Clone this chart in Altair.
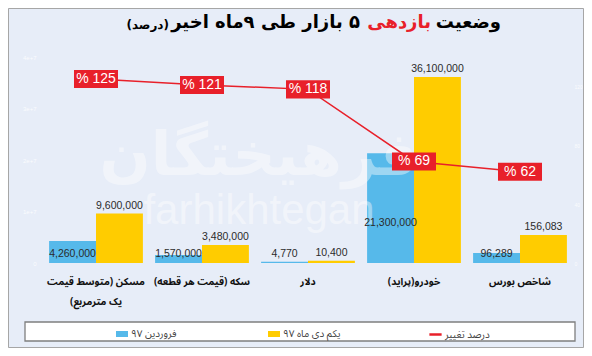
import altair as alt
import pandas as pd

# ---------------- data ----------------
categories = [
    "مسکن (متوسط قیمت\nیک مترمربع)\u200f",
    "سکه (قیمت هر قطعه)\u200f",
    "دلار",
    "خودرو(پراید)\u200f",
    "شاخص بورس",
]
series_names = ["فروردین ۹۷", "یکم دی ماه ۹۷"]
line_name = "درصد تغییر"

farvardin_97 = [4260000, 1570000, 4770, 21300000, 96289]
dey_97 = [9600000, 3480000, 10400, 36100000, 156083]
# bar heights as drawn in the original chart (left axis units)
farvardin_drawn = [4260000, 1570000, 250000, 21300000, 1950000]
dey_drawn = [9600000, 3480000, 450000, 36100000, 5450000]
pct_change = [125, 121, 118, 69, 62]

title_parts = ["وضعیت", "بازدهی", "\u200f۵ بازار طی ۹ماه اخیر", "(درصد)"]
watermark = ["فرهیختگان", "farhikhtegan"]

# ---------------- style ----------------
BLUE = "#56B9EA"
YELLOW = "#FFCC00"
RED = "#E8202A"
BG = "#E7EDF8"
FA = "'Noto Sans Arabic', 'DejaVu Sans Condensed', 'DejaVu Sans'"
FT = "DejaVu Sans"
LAT = "Liberation Sans"

rows = []
for i, c in enumerate(categories):
    rows.append(dict(category=c, series=series_names[0], drawn=farvardin_drawn[i],
                     label=f"{farvardin_97[i]:,}", peak=farvardin_97[i] == max(farvardin_97)))
    rows.append(dict(category=c, series=series_names[1], drawn=dey_drawn[i],
                     label=f"{dey_97[i]:,}", peak=dey_97[i] == max(dey_97)))
bars_df = pd.DataFrame(rows)
pct_df = pd.DataFrame({"category": categories, "pct": pct_change,
                       "txt": [f"% {p}" for p in pct_change], "name": line_name})
one = pd.DataFrame({"a": [0]})

x_enc = alt.X(
    "category:N", sort=categories,
    scale=alt.Scale(domain=categories, paddingInner=0.115, paddingOuter=0.0575),
    axis=alt.Axis(title=None, labelExpr="split(datum.label, '\\n')", labelFont=FA,
                  labelFontWeight="bold", labelFontSize=10, labelColor="#111111",
                  labelPadding=13, labelLineHeight=20, labelAngle=0, labelLimit=220,
                  domain=False, ticks=False, labelBaseline="top"),
)
xoff = alt.XOffset("series:N", sort=series_names,
                   scale=alt.Scale(domain=series_names, paddingInner=0, paddingOuter=0))

y_left = alt.Y(
    "drawn:Q",
    scale=alt.Scale(domain=[0, 40000000], nice=False),
    axis=alt.Axis(title=None, values=list(range(0, 40000001, 5000000)), format=",",
                  labelColor="#FFFFFF", labelOpacity=0.8, labelFontSize=6,
                  domain=False, ticks=False, grid=False, labelPadding=7),
)

# decorative frames
outer = alt.Chart(one).mark_rect(fillOpacity=0, stroke="#A6A6A6", strokeWidth=1).encode(
    x=alt.value(-34.5), x2=alt.value(540.5), y=alt.value(-48.5), y2=alt.value(290.5))
legend_box = alt.Chart(one).mark_rect(fill="#FFFFFF", stroke="#7F7F7F", strokeWidth=1.3).encode(
    x=alt.value(-18), x2=alt.value(532), y=alt.value(265), y2=alt.value(284))

bars = alt.Chart(bars_df).mark_bar(size=46.9).encode(
    x=x_enc, xOffset=xoff, y=y_left,
    color=alt.Color("series:N",
                    scale=alt.Scale(domain=series_names, range=[BLUE, YELLOW]),
                    legend=alt.Legend(orient="none", legendX=72, legendY=270,
                                      direction="horizontal", title=None,
                                      symbolType="M-1,-0.5H1V0.5H-1Z", symbolSize=144,
                                      labelFont=FA, labelFontSize=10, labelColor="#404040",
                                      columnPadding=90, labelOffset=2)),
)

wm1 = alt.Chart(one).mark_text(text=watermark[0], font=FT, fontWeight="bold", fontSize=60,
                               color="#FFFFFF", opacity=0.42).encode(
    x=alt.value(216), y=alt.value(100))
wm2 = alt.Chart(one).mark_text(text=watermark[1], font=LAT, fontSize=42,
                               color="#FFFFFF", opacity=0.42).encode(
    x=alt.value(216), y=alt.value(154))

blue_df = bars_df[(bars_df.series == series_names[0]) & (~bars_df.peak)]
peak_df = bars_df[(bars_df.series == series_names[0]) & (bars_df.peak)]
yellow_df = bars_df[bars_df.series == series_names[1]]

lab_blue = alt.Chart(blue_df).mark_text(dy=-9, font=LAT, fontSize=10.5, color="#2B2B2B").encode(
    x=x_enc, xOffset=xoff, y=alt.datum(0), text="label:N")
lab_peak = alt.Chart(peak_df).mark_text(dy=-40, font=LAT, fontSize=10.5, color="#2B2B2B").encode(
    x=x_enc, xOffset=xoff, y=alt.datum(0), text="label:N")
lab_yellow = alt.Chart(yellow_df).mark_text(dy=-8, font=LAT, fontSize=10.5, color="#2B2B2B").encode(
    x=x_enc, xOffset=xoff, y="drawn:Q", text="label:N")

TS = 18
t1 = alt.Chart(one).mark_text(text=title_parts[0], font=FT, fontWeight="bold", fontSize=TS,
                              align="right", color="#000000").encode(x=alt.value(458), y=alt.value(-34))
t2 = alt.Chart(one).mark_text(text=title_parts[1], font=FT, fontWeight="bold", fontSize=TS,
                              align="right", color=RED).encode(x=alt.value(388), y=alt.value(-34))
t3 = alt.Chart(one).mark_text(text=title_parts[2], font=FT, fontWeight="bold", fontSize=TS,
                              align="right", color="#000000").encode(x=alt.value(317), y=alt.value(-34))
t4 = alt.Chart(one).mark_text(text=title_parts[3], font=FT, fontWeight="bold", fontSize=12,
                              align="right", color="#000000").encode(x=alt.value(126), y=alt.value(-32))

left = alt.layer(outer, legend_box, bars, wm1, wm2, lab_blue, lab_peak, lab_yellow, t1, t2, t3, t4)

y_right = alt.Y(
    "pct:Q", scale=alt.Scale(domain=[0, 140], nice=False),
    axis=alt.Axis(orient="right", title=None, values=list(range(0, 141, 20)),
                  labelColor="#FFFFFF", labelOpacity=0.8, labelFontSize=5,
                  domain=False, ticks=False, grid=False, labelPadding=1),
)
line = alt.Chart(pct_df).mark_line(strokeWidth=1.5).encode(
    x=x_enc, y=y_right,
    stroke=alt.Stroke("name:N", scale=alt.Scale(domain=[line_name], range=[RED]),
                      legend=alt.Legend(orient="none", legendX=385, legendY=270,
                                        direction="horizontal", title=None,
                                        symbolType="stroke", symbolSize=150,
                                        symbolStrokeWidth=2.5, labelFont=FA,
                                        labelFontSize=10, labelColor="#404040",
                                        labelOffset=2)),
)
boxes = alt.Chart(pct_df).mark_point(shape="M-1,-0.41H1V0.41H-1Z", size=1936, filled=True,
                                     fill=RED, opacity=1, strokeWidth=0).encode(
    x=x_enc, y="pct:Q")
box_txt = alt.Chart(pct_df).mark_text(color="#FFFFFF", fontSize=14, font=LAT).encode(
    x=x_enc, y="pct:Q", text="txt:N")

right = alt.layer(line, boxes, box_txt)

chart = alt.layer(left, right).resolve_scale(y="independent").properties(
    width=530, height=206,
    padding={"left": 35, "top": 49, "right": 11, "bottom": 85},
    autosize=alt.AutoSizeParams(type="none"),
    background=BG,
).configure_view(strokeWidth=0)

chart.save("out.html", embed_options={"renderer": "svg", "actions": False})
